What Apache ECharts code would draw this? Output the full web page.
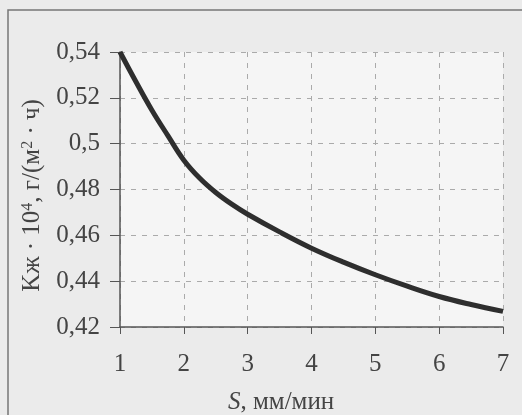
<!DOCTYPE html>
<html><head><meta charset="utf-8">
<script src="https://cdn.jsdelivr.net/npm/echarts@6/dist/echarts.min.js"></script>
<style>html,body{margin:0;padding:0;background:#ebebeb}#c{width:522px;height:415px}</style>
</head><body><div id="c"></div>
<script>
const sValues = [1, 1.25, 1.5, 1.75, 2, 2.25, 2.5, 2.75, 3, 3.5, 4, 4.5, 5, 5.5, 6, 6.5, 7];
const kValues = [0.54, 0.527, 0.5146, 0.5035, 0.4928, 0.4849, 0.4787, 0.4736, 0.4692, 0.4615, 0.4544, 0.4483, 0.4428, 0.4378, 0.4333, 0.4298, 0.4268];
const xTicks = [1, 2, 3, 4, 5, 6, 7];
const yTicks = [0.42, 0.44, 0.46, 0.48, 0.5, 0.52, 0.54];

const font = "'Liberation Serif', 'Times New Roman', serif";
const chart = echarts.init(document.getElementById('c'));
chart.setOption({
  backgroundColor: '#ebebeb',
  animation: false,
  grid: { left: 120, top: 52, right: 19, bottom: 88, show: true, backgroundColor: '#f5f5f5', borderWidth: 0 },
  xAxis: {
    type: 'value', min: xTicks[0], max: xTicks[xTicks.length - 1], interval: 1,
    axisLine: { show: true, onZero: false, lineStyle: { color: '#555', width: 1.5 } },
    axisTick: { show: true, length: 7, lineStyle: { color: '#555' } },
    splitLine: { show: true, lineStyle: { color: '#aaa', type: [5, 6], width: 1 } },
    axisLabel: { margin: 25, fontFamily: font, fontSize: 25, color: '#444' }
  },
  yAxis: {
    type: 'value', min: yTicks[0], max: yTicks[yTicks.length - 1], interval: 0.02,
    axisLine: { show: true, onZero: false, lineStyle: { color: '#555', width: 1.5 } },
    axisTick: { show: true, length: 10, lineStyle: { color: '#555' } },
    splitLine: { show: true, lineStyle: { color: '#aaa', type: [5, 6], width: 1 } },
    axisLabel: { margin: 20, fontFamily: font, fontSize: 25, color: '#444',
      formatter: v => String(+(+v).toFixed(2)).replace('.', ',') },
    name: '{a|Kж · 10}{s|4}{a|, г/(м}{s|2}{a| · ч)}',
    nameLocation: 'middle', nameRotate: 90, nameGap: 70,
    nameTextStyle: {
      rich: {
        a: { fontFamily: font, fontSize: 25, color: '#444' },
        s: { fontFamily: font, fontSize: 16, color: '#444', verticalAlign: 'top', padding: [0, 0, 10, 0] }
      },
      padding: [0, 12, 0, 0]
    }
  },
  graphic: [
    { type: 'rect', shape: { x: 8, y: 10, width: 530, height: 420 }, style: { fill: 'none', stroke: '#777', lineWidth: 1.5 }, z: 10 },
    { type: 'text', left: 228, top: 390, z: 10,
      style: { text: '{i|S}{n|, мм/мин}', rich: {
        i: { fontFamily: font, fontSize: 25, fontStyle: 'italic', fill: '#444' },
        n: { fontFamily: font, fontSize: 25, fill: '#444' } } } }
  ],
  series: [{
    type: 'line', smooth: 0.4, showSymbol: false,
    data: sValues.map((s, i) => [s, kValues[i]]),
    lineStyle: { color: '#2e2e2e', width: 5 }
  }]
});
</script></body></html>
